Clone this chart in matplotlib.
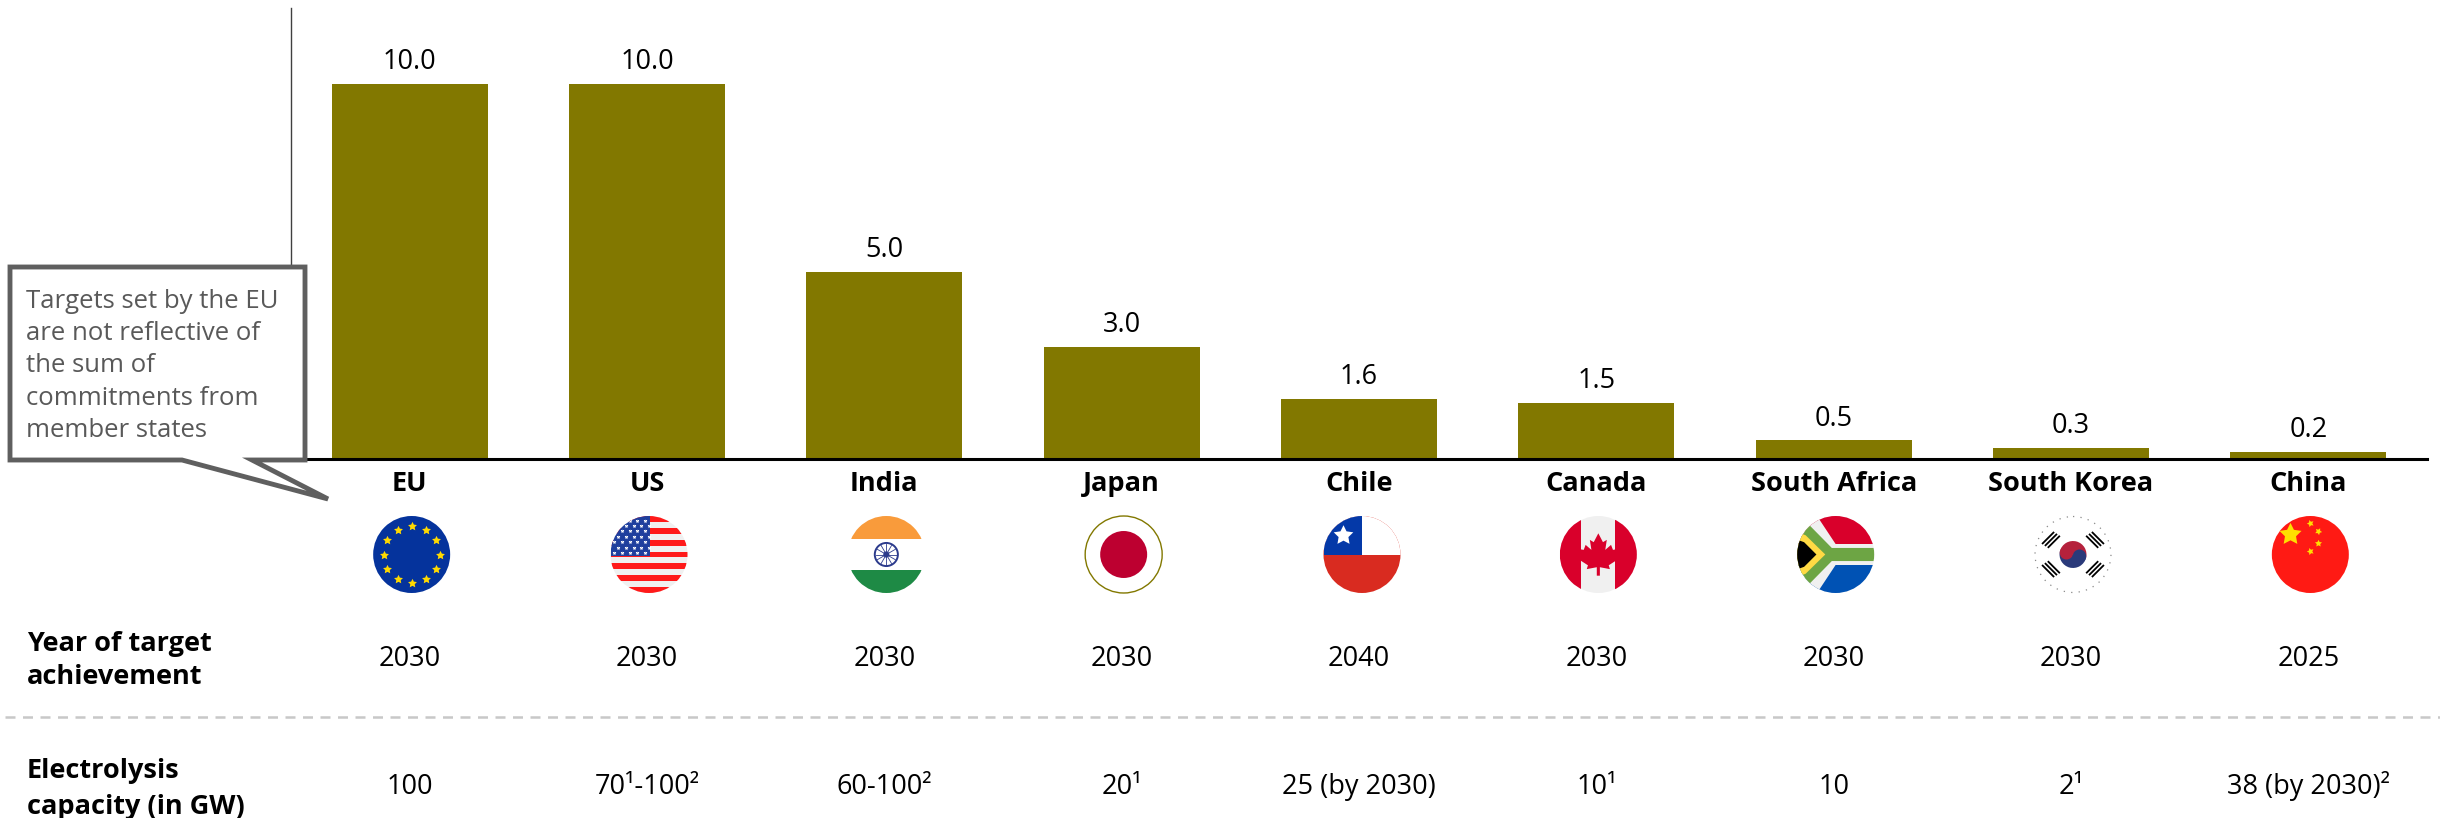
import numpy as np
import matplotlib
matplotlib.use("Agg")
import matplotlib.pyplot as plt
from matplotlib.patches import Circle, Polygon, Rectangle, Wedge

plt.rcParams['font.family'] = ['Open Sans', 'DejaVu Sans']

paises = ["EU", "US", "India", "Japan", "Chile", "Canada", "South Africa", "South Korea", "China"]
objetivo_gw = [10.0, 10.0, 5.0, 3.0, 1.6, 1.5, 0.5, 0.3, 0.2]
anio_objetivo = ["2030", "2030", "2030", "2030", "2040", "2030", "2030", "2030", "2025"]
electrolisis = ["100", "70¹-100²", "60-100²", "20¹", "25 (by 2030)", "10¹", "10", "2¹", "38 (by 2030)²"]
nota = ["Targets set by the EU", "are not reflective of", "the sum of", "commitments from", "member states"]

OLIVA = "#827800"
W, H = 2440, 818
TAM = 19.5

fig = plt.figure(figsize=(W / 100, H / 100), dpi=100)

# ==========================
# Bars
# ==========================

ax = fig.add_axes([291 / W, 1 - 459 / H, (2427 - 291) / W, (459 - 8) / H])
pos = np.arange(len(paises))
barras = ax.bar(pos, objetivo_gw, width=0.657, color=OLIVA)
ax.bar_label(barras, labels=[f"{v:.1f}" for v in objetivo_gw], padding=5.5, fontsize=TAM)
ax.set_xlim(-0.5, 8.5)
ax.set_ylim(0, 12.03)
ax.set_xticks([])
ax.set_yticks([])
ax.spines[['top', 'right']].set_visible(False)
ax.spines['left'].set_linewidth(1)
ax.spines['left'].set_color("#404040")
ax.spines['bottom'].set_linewidth(2.2)

# ==========================
# Overlay in pixel coordinates: table rows, callout, flags
# ==========================

capa = fig.add_axes([0, 0, 1, 1])
capa.set_xlim(0, W)
capa.set_ylim(H, 0)
capa.axis("off")
capa.patch.set_alpha(0)

centros = ax.transData.transform(np.column_stack([pos, np.zeros(len(pos))]))[:, 0]

for cx, pais, anio, cap in zip(centros, paises, anio_objetivo, electrolisis):
    capa.text(cx, 491, pais, ha='center', va='baseline', fontsize=TAM, fontweight='bold')
    capa.text(cx, 666, anio, ha='center', va='baseline', fontsize=TAM)
    capa.text(cx, 794, cap, ha='center', va='baseline', fontsize=TAM)

capa.text(27, 651, "Year of target", va='baseline', fontsize=TAM, fontweight='bold')
capa.text(27, 684, "achievement", va='baseline', fontsize=TAM, fontweight='bold')
capa.text(27, 778, "Electrolysis", va='baseline', fontsize=TAM, fontweight='bold')
capa.text(27, 814, "capacity (in GW)", va='baseline', fontsize=TAM, fontweight='bold')

capa.plot([5, W], [717, 717], color="#c8c8c8", lw=1.8, ls=(0, (4, 3)))

# Callout
GRIS = "#5f5f5f"
capa.add_patch(Polygon([(10, 267), (305, 267), (305, 460), (252, 460), (328, 499), (182, 460), (10, 460)],
                       closed=True, fc="white", ec=GRIS, lw=3.5, joinstyle='miter', zorder=5))
for i, linea in enumerate(nota):
    capa.text(26, 308 + i * 32.2, linea, va='baseline', fontsize=18.5, color="#595959", zorder=6)

# ==========================
# Flags
# ==========================

R = 38.5
FY = 554.5


def nueva_bandera(cx, fondo):
    circulo = Circle((cx, FY), R, fc=fondo, ec='none', zorder=3)
    capa.add_patch(circulo)
    return circulo


def franja(circulo, x0, y0, x1, y1, color):
    # rectangle given in flag units, radius = 1, y pointing down
    cx = circulo.center[0]
    r = Rectangle((cx + x0 * R, FY + y0 * R), (x1 - x0) * R, (y1 - y0) * R, fc=color, ec='none', zorder=3.2)
    capa.add_patch(r)
    r.set_clip_path(circulo)
    return r


def poligono(circulo, puntos, color):
    cx = circulo.center[0]
    p = Polygon([(cx + a * R, FY + b * R) for a, b in puntos], closed=True, fc=color, ec='none', zorder=3.3)
    capa.add_patch(p)
    p.set_clip_path(circulo)
    return p


def estrella(cx, cy, tam, color, rot=0):
    capa.scatter([cx], [cy], s=tam, marker=(5, 1, rot), color=color, linewidths=0, zorder=3.6)


# EU
c = nueva_bandera(centros[0] + 2, "#05339c")
for ang in np.arange(0, 360, 30):
    estrella(c.center[0] + 0.73 * R * np.cos(np.radians(ang)), FY + 0.73 * R * np.sin(np.radians(ang)), 45, "#ffd900")

# US
c = nueva_bandera(centros[1] + 2, "#f0f0f0")
for k in range(7):
    y0 = -1 + k * 2 / 6.5
    franja(c, -1, y0, 1, y0 + 2 / 13, "#ff1a1a")
franja(c, -1, -1, 0.02, 0.05, "#1f3f9e")
for fila in range(7):
    for col in range(5):
        capa.scatter([c.center[0] + (-0.9 + col * 0.2 + (fila % 2) * 0.1) * R], [FY + (-0.88 + fila * 0.14) * R],
                     s=9, marker='*', color="white", linewidths=0, zorder=3.6, clip_path=c)

# India
c = nueva_bandera(centros[2] + 2, "white")
franja(c, -1, -1, 1, -0.39, "#f99b3b")
franja(c, -1, 0.39, 1, 1, "#1e8a45")
capa.add_patch(Circle((c.center[0], FY), 0.3 * R, fc="white", ec="#2b3a8c", lw=1.4, zorder=3.4))
for ang in np.arange(0, 180, 30):
    dx, dy = 0.27 * R * np.cos(np.radians(ang)), 0.27 * R * np.sin(np.radians(ang))
    capa.plot([c.center[0] - dx, c.center[0] + dx], [FY - dy, FY + dy], color="#2b3a8c", lw=0.6, zorder=3.5)
capa.add_patch(Circle((c.center[0], FY), 0.08 * R, fc="#2b3a8c", ec='none', zorder=3.6))

# Japan
cx = centros[3] + 2
capa.add_patch(Circle((cx, FY), R, fc="white", ec=OLIVA, lw=1, zorder=3))
capa.add_patch(Circle((cx, FY), 0.61 * R, fc="#bd0030", ec='none', zorder=3.2))

# Chile
c = nueva_bandera(centros[4] + 3, "#d92b20")
franja(c, -1, -1, 1, 0, "white")
franja(c, -1, -1, 0, 0, "#0439a8")
estrella(c.center[0] - 0.5 * R, FY - 0.5 * R, 220, "white")

# Canada
c = nueva_bandera(centros[5] + 2, "#f0f0f0")
franja(c, -1, -1, -0.44, 1, "#d9002b")
franja(c, 0.44, -1, 1, 1, "#d9002b")
arce = [(0, -0.55), (0.12, -0.32), (0.22, -0.38), (0.18, -0.12), (0.33, -0.25), (0.38, -0.12), (0.55, -0.15),
        (0.47, 0.03), (0.55, 0.1), (0.27, 0.28), (0.3, 0.38), (0.04, 0.33), (0.04, 0.55), (-0.04, 0.55),
        (-0.04, 0.33), (-0.3, 0.38), (-0.27, 0.28), (-0.55, 0.1), (-0.47, 0.03), (-0.55, -0.15), (-0.38, -0.12),
        (-0.33, -0.25), (-0.18, -0.12), (-0.22, -0.38), (-0.12, -0.32)]
poligono(c, arce, "#d9002b")

# South Africa
c = nueva_bandera(centros[6] + 2, "#f0f0f0")
franja(c, -1, -1, 1, -0.27, "#d9002b")
franja(c, -1, 0.27, 1, 1, "#0052b4")
poligono(c, [(-1.1, -1.1), (-0.55, -1.1), (0.0, -0.27), (1.1, -0.27), (1.1, 0.27), (0.0, 0.27), (-0.55, 1.1), (-1.1, 1.1)], "#f0f0f0")
poligono(c, [(-1.1, -0.95), (-0.7, -0.78), (-0.1, -0.17), (1.1, -0.17), (1.1, 0.17), (-0.1, 0.17), (-0.7, 0.78), (-1.1, 0.95)], "#6da544")
poligono(c, [(-1.1, -0.62), (-0.78, -0.5), (-0.27, 0), (-0.78, 0.5), (-1.1, 0.62)], "#ffda44")
poligono(c, [(-1.1, -0.42), (-0.82, -0.32), (-0.5, 0), (-0.82, 0.32), (-1.1, 0.42)], "black")

# South Korea
cx = centros[7] + 2
c = nueva_bandera(cx, "white")
capa.add_patch(Circle((cx, FY), R - 0.5, fc='none', ec="#8a8a8a", lw=0.9, ls=(0, (1, 5)), zorder=3.1))
giro = 15
rad = 0.35 * R
capa.add_patch(Wedge((cx, FY), rad, 180 + giro, 360 + giro, fc="#b5213c", ec='none', zorder=3.4))
capa.add_patch(Wedge((cx, FY), rad, giro, 180 + giro, fc="#2a3a7a", ec='none', zorder=3.4))
dxl, dyl = 0.5 * rad * np.cos(np.radians(giro)), 0.5 * rad * np.sin(np.radians(giro))
capa.add_patch(Circle((cx - dxl, FY - dyl), 0.5 * rad, fc="#b5213c", ec='none', zorder=3.5))
capa.add_patch(Circle((cx + dxl, FY + dyl), 0.5 * rad, fc="#2a3a7a", ec='none', zorder=3.5))
for sx, sy in [(-1, -1), (1, -1), (-1, 1), (1, 1)]:
    for d in (0.6, 0.69, 0.78):
        px, py = cx + sx * d * 0.83 * R, FY + sy * d * 0.55 * R
        capa.plot([px - sx * 0.14 * R, px + sx * 0.14 * R], [py + sy * 0.14 * R, py - sy * 0.14 * R],
                  color="black", lw=1.3, zorder=3.5)

# China
c = nueva_bandera(centros[8] + 2, "#ff1a14")
estrella(c.center[0] - 0.52 * R, FY - 0.53 * R, 280, "#ffe000")
for a, b, rot in [(0.0, -0.81, 20), (0.2, -0.6, 45), (0.2, -0.3, 0), (0.0, -0.1, 20)]:
    estrella(c.center[0] + a * R, FY + b * R, 28, "#ffe000", rot)

fig.savefig("out.png", dpi=100)
